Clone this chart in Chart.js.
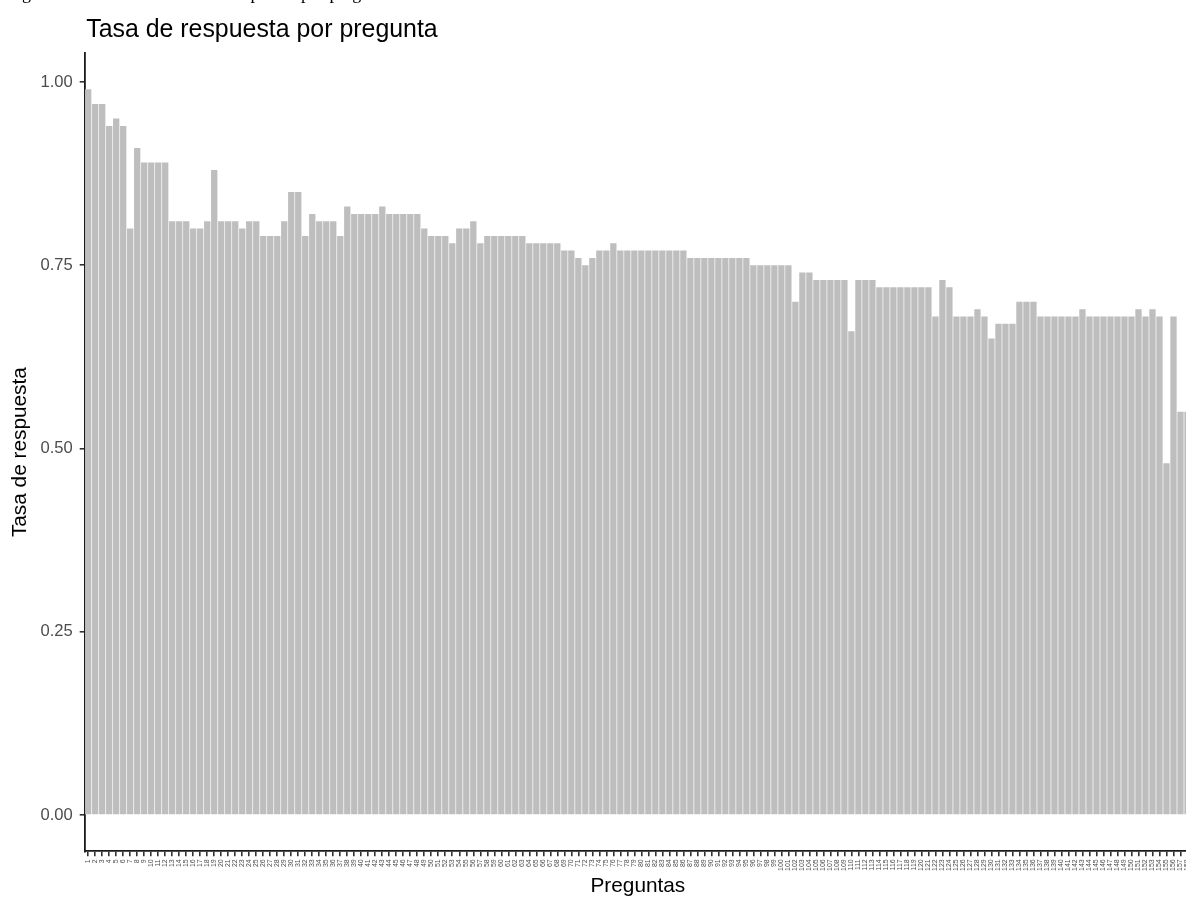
<!DOCTYPE html>
<html>
<head>
<meta charset="utf-8">
<script src="https://cdn.jsdelivr.net/npm/chart.js@4"></script>
<style>
  html, body { margin: 0; padding: 0; overflow: hidden; background: #fff; width: 1186px; height: 901px; }
  #wrap { position: absolute; left: 0; top: 0; width: 1200px; height: 901px; }
  #caption { position: absolute; left: 7px; top: -17.5px; font: 18px "Liberation Serif", "Times New Roman", serif; line-height: 20px; white-space: nowrap; color: #000; }
</style>
</head>
<body>
<div id="wrap"><canvas id="grafico"></canvas></div>
<div id="caption">Figura 4: Gráfico de la tasa de respuesta por pregunta</div>
<script>
const titulo = "Tasa de respuesta por pregunta";
const tituloX = "Preguntas";
const tituloY = "Tasa de respuesta";

const preguntas = [
  "1","2","3","4","5","6","7","8","9","10","11","12","13","14","15","16","17","18","19","20",
  "21","22","23","24","25","26","27","28","29","30","31","32","33","34","35","36","37","38","39","40",
  "41","42","43","44","45","46","47","48","49","50","51","52","53","54","55","56","57","58","59","60",
  "61","62","63","64","65","66","67","68","69","70","71","72","73","74","75","76","77","78","79","80",
  "81","82","83","84","85","86","87","88","89","90","91","92","93","94","95","96","97","98","99","100",
  "101","102","103","104","105","106","107","108","109","110","111","112","113","114","115","116","117","118","119","120",
  "121","122","123","124","125","126","127","128","129","130","131","132","133","134","135","136","137","138","139","140",
  "141","142","143","144","145","146","147","148","149","150","151","152","153","154","155","156","157","158"
];

const tasas = [
  0.99, 0.97, 0.97, 0.94, 0.95, 0.94, 0.80, 0.91, 0.89, 0.89,
  0.89, 0.89, 0.81, 0.81, 0.81, 0.80, 0.80, 0.81, 0.88, 0.81,
  0.81, 0.81, 0.80, 0.81, 0.81, 0.79, 0.79, 0.79, 0.81, 0.85,
  0.85, 0.79, 0.82, 0.81, 0.81, 0.81, 0.79, 0.83, 0.82, 0.82,
  0.82, 0.82, 0.83, 0.82, 0.82, 0.82, 0.82, 0.82, 0.80, 0.79,
  0.79, 0.79, 0.78, 0.80, 0.80, 0.81, 0.78, 0.79, 0.79, 0.79,
  0.79, 0.79, 0.79, 0.78, 0.78, 0.78, 0.78, 0.78, 0.77, 0.77,
  0.76, 0.75, 0.76, 0.77, 0.77, 0.78, 0.77, 0.77, 0.77, 0.77,
  0.77, 0.77, 0.77, 0.77, 0.77, 0.77, 0.76, 0.76, 0.76, 0.76,
  0.76, 0.76, 0.76, 0.76, 0.76, 0.75, 0.75, 0.75, 0.75, 0.75,
  0.75, 0.70, 0.74, 0.74, 0.73, 0.73, 0.73, 0.73, 0.73, 0.66,
  0.73, 0.73, 0.73, 0.72, 0.72, 0.72, 0.72, 0.72, 0.72, 0.72,
  0.72, 0.68, 0.73, 0.72, 0.68, 0.68, 0.68, 0.69, 0.68, 0.65,
  0.67, 0.67, 0.67, 0.70, 0.70, 0.70, 0.68, 0.68, 0.68, 0.68,
  0.68, 0.68, 0.69, 0.68, 0.68, 0.68, 0.68, 0.68, 0.68, 0.68,
  0.69, 0.68, 0.69, 0.68, 0.48, 0.68, 0.55, 0.55
];

const yTicks = [0, 0.25, 0.5, 0.75, 1];

const fam = '"Liberation Sans", Arial, Helvetica, sans-serif';

// titulo alineado con el borde del panel, como en ggplot
const tituloPlugin = {
  id: "titulo",
  afterDraw(chart) {
    const ctx = chart.ctx;
    ctx.save();
    ctx.font = "24.9px " + fam;
    ctx.fillStyle = "#000";
    ctx.textBaseline = "alphabetic";
    ctx.textAlign = "left";
    ctx.fillText(titulo, chart.chartArea.left + 1.5, 37);
    ctx.restore();
  }
};

new Chart(document.getElementById("grafico"), {
  type: "bar",
  data: {
    labels: preguntas,
    datasets: [{
      data: tasas,
      backgroundColor: "#bebebe",
      borderWidth: 0,
      barPercentage: 0.9,
      categoryPercentage: 1.0
    }]
  },
  options: {
    responsive: true,
    maintainAspectRatio: false,
    animation: false,
    layout: { padding: { top: 53, right: 9, bottom: 0, left: 0 } },
    plugins: {
      legend: { display: false },
      tooltip: { enabled: false },
      title: { display: false }
    },
    scales: {
      x: {
        type: "category",
        offset: true,
        grid: { display: true, drawOnChartArea: false, drawTicks: true, tickLength: 5, color: "#333", lineWidth: 1.6, offset: false },
        border: { display: true, color: "#1a1a1a", width: 1.8 },
        ticks: { autoSkip: false, minRotation: 90, maxRotation: 90, padding: 3, color: "#4d4d4d", font: { size: 7, family: fam } },
        title: { display: true, text: tituloX, color: "#000", font: { size: 20.8, family: fam }, padding: { top: 0, bottom: 2 } },
        afterFit: s => { s.height = 49.7; }
      },
      y: {
        min: -0.0495,
        max: 1.0395,
        afterBuildTicks: s => { s.ticks = yTicks.map(v => ({ value: v })); },
        grid: { display: true, drawOnChartArea: false, drawTicks: true, tickLength: 5, color: "#333", lineWidth: 1.6 },
        border: { display: true, color: "#1a1a1a", width: 1.8 },
        ticks: { color: "#4d4d4d", padding: 7, font: { size: 16.6, family: fam }, callback: v => v.toFixed(2) },
        title: { display: true, text: tituloY, color: "#000", font: { size: 20.8, family: fam }, padding: { top: 7.5, bottom: 0 } },
        afterFit: s => { s.width = 84.7; }
      }
    }
  },
  plugins: [tituloPlugin]
});
</script>
</body>
</html>
